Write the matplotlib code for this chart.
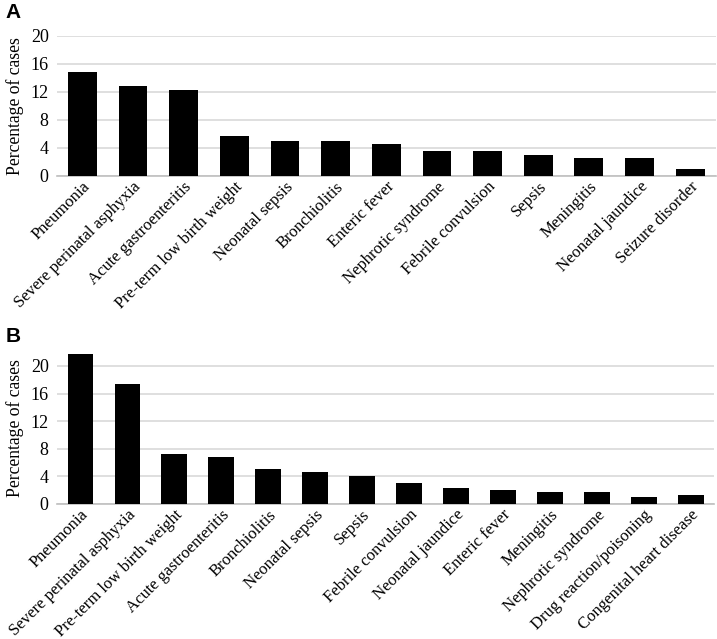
import matplotlib
matplotlib.use('Agg')
import matplotlib.pyplot as plt

# Panel A data
labels_a = ['Pneumonia', 'Severe perinatal asphyxia', 'Acute gastroenteritis',
            'Pre-term low birth weight', 'Neonatal sepsis', 'Bronchiolitis',
            'Enteric fever', 'Nephrotic syndrome', 'Febrile convulsion', 'Sepsis',
            'Meningitis', 'Neonatal jaundice', 'Seizure disorder']
values_a = [14.8, 12.8, 12.3, 5.7, 5.0, 5.0, 4.5, 3.5, 3.5, 3.0, 2.5, 2.5, 1.0]

# Panel B data
labels_b = ['Pneumonia', 'Severe perinatal asphyxia', 'Pre-term low birth weight',
            'Acute gastroenteritis', 'Bronchiolitis', 'Neonatal sepsis', 'Sepsis',
            'Febrile convulsion', 'Neonatal jaundice', 'Enteric fever', 'Meningitis',
            'Nephrotic syndrome', 'Drug reaction/poisoning', 'Congenital heart disease']
values_b = [21.8, 17.4, 7.2, 6.8, 5.0, 4.7, 4.0, 3.0, 2.3, 2.0, 1.7, 1.7, 1.0, 1.3]

yticks = [0, 4, 8, 12, 16, 20]

plt.rcParams['font.family'] = ['Liberation Serif', 'DejaVu Serif']

fig = plt.figure(figsize=(7.17, 6.39), dpi=100)


def draw_panel(ax, labels, values, ymax, bar_width):
    x = range(len(labels))
    ax.bar(x, values, width=bar_width, color='black', zorder=3)
    ax.set_xlim(-0.5, len(labels) - 0.5)
    ax.set_ylim(0, ymax)
    ax.set_yticks(yticks)
    ax.tick_params(axis='y', length=0, labelsize=13, pad=6)
    ax.tick_params(axis='x', length=0, pad=2)
    ax.set_xticks(list(x))
    ax.set_xticklabels(labels, rotation=45, ha='right', va='top',
                       rotation_mode='anchor', fontsize=12)
    ax.yaxis.grid(True, color='#d9d9d9', linewidth=1.2, zorder=0)
    for s in ['top', 'right', 'left']:
        ax.spines[s].set_visible(False)
    ax.spines['bottom'].set_color('#bfbfbf')
    ax.spines['bottom'].set_linewidth(1.2)
    ax.set_ylabel('Percentage of cases', fontsize=12.7, labelpad=5)


ax_a = fig.add_axes([0.0795, 0.7246, 0.9185, 0.2191])
draw_panel(ax_a, labels_a, values_a, 20, 0.57)

ax_b = fig.add_axes([0.0795, 0.2113, 0.9165, 0.2376])
draw_panel(ax_b, labels_b, values_b, 22, 0.55)

fig.text(0.008, 0.995, 'A', fontsize=15, fontweight='bold',
         family='Liberation Sans', va='top')
fig.text(0.008, 0.488, 'B', fontsize=15, fontweight='bold',
         family='Liberation Sans', va='top')

fig.savefig('out.png', dpi=100)
